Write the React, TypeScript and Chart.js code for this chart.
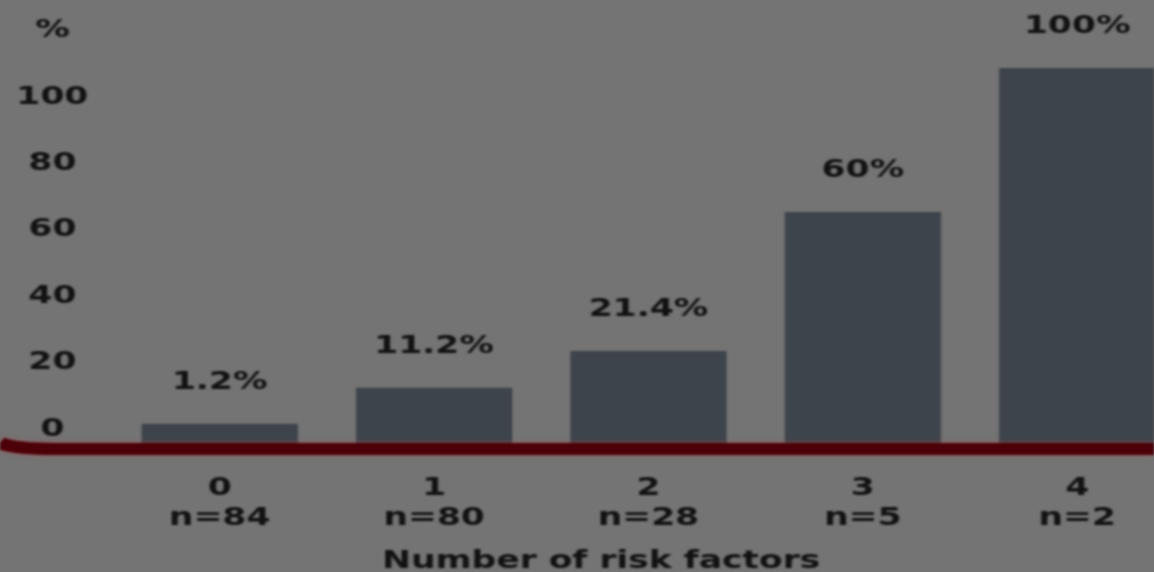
import React, { useEffect, useRef } from "react";
import { Chart, registerables } from "chart.js";

Chart.register(...registerables);

// ---- data ----
const CATEGORIES = ["0", "1", "2", "3", "4"];
const SAMPLE_SIZES = ["n=84", "n=80", "n=28", "n=5", "n=2"];
const PERCENTS = [1.2, 11.2, 21.4, 60, 100];
const Y_TICKS = [0, 20, 40, 60, 80, 100, 120];
const Y_TICK_LABELS = ["0", "20", "40", "60", "80", "100", "%"];
const X_TITLE = "Number of risk factors";

// ---- layout / style ----
const CANVAS_W = 836;
const CANVAS_H = 572;
const STRETCH = 1154 / CANVAS_W;
const FONT = "'DejaVu Sans', sans-serif";
const TEXT = "#121212";
const BG = "#747474";
const BAR = "#3e444b";
const RED = "#4c0008";
const X_MIN = -0.574;
const X_MAX = 4.133;
const Y_MIN = -4.2;
const Y_MAX = 120.8;
const BAR_MIN = -4.17;
const BAR_MAX = 111.1;

const font = { family: FONT, size: 25, weight: "bold" as const, lineHeight: 1.2 };

const valueLabels = {
  id: "valueLabels",
  afterDatasetsDraw(chart: any) {
    const meta = chart.getDatasetMeta(0);
    const ctx = chart.ctx;
    ctx.save();
    ctx.font = `bold 25px ${FONT}`;
    ctx.fillStyle = TEXT;
    ctx.textAlign = "center";
    ctx.textBaseline = "middle";
    meta.data.forEach((el: any, i: number) => {
      ctx.fillText(`${PERCENTS[i]}%`, el.x, el.y - 41);
    });
    ctx.restore();
  },
};

const redBaseline = {
  id: "redBaseline",
  afterDraw(chart: any) {
    const ctx = chart.ctx;
    const y = chart.chartArea.bottom + 6;
    ctx.save();
    ctx.strokeStyle = RED;
    ctx.lineWidth = 12;
    ctx.shadowColor = "rgba(170,70,80,0.7)";
    ctx.shadowBlur = 5;
    ctx.beginPath();
    ctx.moveTo(0, y - 6);
    ctx.quadraticCurveTo(10, y, 40, y);
    ctx.lineTo(chart.width, y);
    ctx.stroke();
    ctx.restore();
  },
};

export default function App() {
  const ref = useRef<HTMLCanvasElement | null>(null);

  useEffect(() => {
    if (!ref.current) return;
    const chart = new Chart(ref.current, {
      type: "bar",
      data: {
        datasets: [
          {
            data: PERCENTS.map((v, i) => ({ x: Number(CATEGORIES[i]), y: v })),
            xAxisID: "x",
            yAxisID: "yb",
            backgroundColor: BAR,
            borderWidth: 0,
            barPercentage: 0.729,
            categoryPercentage: 1,
            base: BAR_MIN,
            clip: false,
          } as any,
        ],
      },
      options: {
        animation: false,
        responsive: true,
        maintainAspectRatio: false,
        layout: { padding: { top: 28, right: 35, left: 0, bottom: 0 } },
        plugins: { legend: { display: false }, tooltip: { enabled: false } },
        scales: {
          x: {
            type: "linear",
            offset: false,
            min: X_MIN,
            max: X_MAX,
            grid: { display: false, drawTicks: false, offset: false },
            border: { display: false },
            afterBuildTicks: (s: any) => {
              s.ticks = CATEGORIES.map((c) => ({ value: Number(c) }));
            },
            afterFit: (s: any) => {
              s.height = 129;
            },
            ticks: {
              autoSkip: false,
              maxRotation: 0,
              padding: 0,
              color: TEXT,
              font,
              callback: (_v: any, i: number) => ["", CATEGORIES[i], SAMPLE_SIZES[i]],
            },
            title: {
              display: true,
              text: X_TITLE,
              color: TEXT,
              font,
              padding: { top: 0, bottom: -4 },
            },
          },
          y: {
            position: "left",
            min: Y_MIN,
            max: Y_MAX,
            grid: { display: false, drawTicks: false },
            border: { display: false },
            afterBuildTicks: (s: any) => {
              s.ticks = Y_TICKS.map((v) => ({ value: v }));
            },
            afterFit: (s: any) => {
              s.width = 70;
            },
            ticks: {
              crossAlign: "center",
              padding: 6,
              color: TEXT,
              font,
              callback: (_v: any, i: number) => Y_TICK_LABELS[i],
            },
          },
          yb: { display: false, min: BAR_MIN, max: BAR_MAX },
        },
      } as any,
      plugins: [valueLabels, redBaseline],
    });
    return () => chart.destroy();
  }, []);

  return (
    <div
      style={{
        position: "fixed",
        left: 0,
        top: 0,
        width: CANVAS_W,
        height: CANVAS_H,
        transform: `scaleX(${STRETCH})`,
        transformOrigin: "0 0",
        background: BG,
        overflow: "hidden",
      }}
    >
      <canvas ref={ref} style={{ display: "block", filter: "blur(0.8px)" }} />
    </div>
  );
}
